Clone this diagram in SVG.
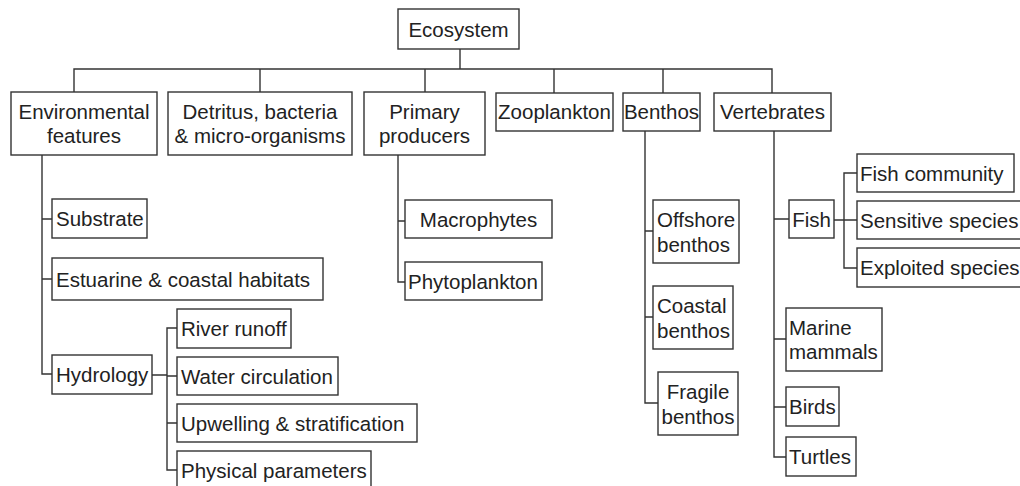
<svg xmlns="http://www.w3.org/2000/svg" width="1020" height="486" viewBox="0 0 1020 486">
<style>
rect{fill:#fff;stroke:#333;stroke-width:1.4}
text{font-family:"Liberation Sans",Arial,sans-serif;font-size:20.5px;fill:#222}
.c{text-anchor:middle}
#connectors path{fill:none;stroke:#333;stroke-width:1.4}
</style>
<rect x="0" y="0" width="1020" height="486" style="stroke:none;fill:#fff"/>
<g id="connectors">
<path d="M460 49V69M74 92V69H772V93M260 69V92M425 69V92M554 69V93M663 69V93"/>
<path d="M42 155V374H52M42 219H52M42 279H52"/>
<path d="M152 375H167M177 328H167V470H177M167 376H177M167 423H177"/>
<path d="M398 155V282H405M398 221H405"/>
<path d="M645 131V403H658M645 231H653M645 317H653"/>
<path d="M774 131V457H786M774 219H789M774 339H786M774 407H786"/>
<path d="M834 220H857M857 173H844V268H857"/>
</g>
<g id="ecosystem"><rect x="398" y="9" width="121" height="40"/><text class="c" x="458.5" y="37">Ecosystem</text></g>
<g id="environmental"><rect x="11" y="92" width="146" height="63"/><text class="c" x="84" y="119">Environmental</text><text class="c" x="84" y="143">features</text></g>
<g id="detritus"><rect x="168" y="92" width="184" height="63"/><text class="c" x="260" y="119">Detritus, bacteria</text><text class="c" x="260" y="143">&amp; micro-organisms</text></g>
<g id="primary"><rect x="364" y="92" width="121" height="63"/><text class="c" x="424.5" y="119">Primary</text><text class="c" x="424.5" y="143">producers</text></g>
<g id="zooplankton"><rect x="496" y="93" width="117" height="38"/><text class="c" x="554.5" y="119">Zooplankton</text></g>
<g id="benthos"><rect x="623" y="93" width="77" height="38"/><text class="c" x="661.5" y="119">Benthos</text></g>
<g id="vertebrates"><rect x="714" y="93" width="117" height="38"/><text class="c" x="772.5" y="119">Vertebrates</text></g>
<g id="substrate"><rect x="52" y="199" width="95" height="39"/><text x="56" y="226">Substrate</text></g>
<g id="estuarine"><rect x="52" y="258" width="271" height="42"/><text x="56" y="287">Estuarine &amp; coastal habitats</text></g>
<g id="hydrology"><rect x="52" y="355" width="100" height="39"/><text x="56" y="382">Hydrology</text></g>
<g id="river"><rect x="177" y="309" width="114" height="39"/><text x="181" y="336">River runoff</text></g>
<g id="water"><rect x="177" y="357" width="161" height="38"/><text x="181" y="384">Water circulation</text></g>
<g id="upwelling"><rect x="177" y="404" width="240" height="38"/><text x="181" y="431">Upwelling &amp; stratification</text></g>
<g id="physical"><rect x="177" y="451" width="194" height="40"/><text x="181" y="478">Physical parameters</text></g>
<g id="macrophytes"><rect x="405" y="200" width="147" height="38"/><text class="c" x="478.5" y="227">Macrophytes</text></g>
<g id="phytoplankton"><rect x="405" y="262" width="137" height="38"/><text x="408" y="289">Phytoplankton</text></g>
<g id="offshore"><rect x="653" y="200" width="86" height="63"/><text x="657" y="227">Offshore</text><text x="657" y="252">benthos</text></g>
<g id="coastal"><rect x="653" y="286" width="80" height="63"/><text x="657" y="313">Coastal</text><text x="657" y="338">benthos</text></g>
<g id="fragile"><rect x="658" y="372" width="80" height="63"/><text class="c" x="698" y="399">Fragile</text><text class="c" x="698" y="424">benthos</text></g>
<g id="fish"><rect x="789" y="200" width="45" height="38"/><text class="c" x="811.5" y="227">Fish</text></g>
<g id="fishcommunity"><rect x="857" y="154" width="157" height="38"/><text x="860" y="181">Fish community</text></g>
<g id="sensitive"><rect x="857" y="201" width="170" height="38"/><text x="860" y="228">Sensitive species</text></g>
<g id="exploited"><rect x="857" y="248" width="170" height="39"/><text x="860" y="275">Exploited species</text></g>
<g id="mammals"><rect x="786" y="308" width="96" height="63"/><text x="789" y="335">Marine</text><text x="789" y="359">mammals</text></g>
<g id="birds"><rect x="786" y="387" width="53" height="39"/><text x="789" y="414">Birds</text></g>
<g id="turtles"><rect x="786" y="437" width="70" height="39"/><text x="789" y="464">Turtles</text></g>
</svg>
